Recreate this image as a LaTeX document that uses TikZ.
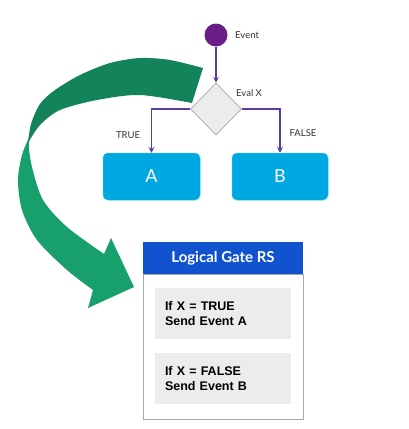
\documentclass[tikz,border=0pt]{standalone}
\usepackage{fontspec}
\setmainfont{Lato}
\newfontfamily\arialfam{Liberation Sans}
\usetikzlibrary{shapes.geometric,arrows.meta}
\definecolor{evpurple}{HTML}{6A1E87}
\definecolor{connc}{HTML}{5B3BA6}
\definecolor{boxblue}{HTML}{00A8E1}
\definecolor{hdrblue}{HTML}{1152CF}
\definecolor{gdark}{HTML}{13845A}
\definecolor{glight}{HTML}{18A06C}
\definecolor{panelc}{HTML}{ECECEC}
\definecolor{dgray}{HTML}{A8A8A8}
\definecolor{labc}{HTML}{333333}
\begin{document}
\begin{tikzpicture}[x=1pt,y=-1pt,
  conn/.style={draw=connc, line width=1.1pt, -{Stealth[length=6pt,width=6pt,inset=2.5pt]}},
  lab/.style={text=labc, font=\fontsize{9.5}{11}\selectfont, inner sep=0pt},
  eventc/.style={circle, fill=evpurple, minimum size=23pt, inner sep=0pt},
  decision/.style={diamond, draw=dgray, line width=0.7pt, fill=panelc, minimum width=51pt, minimum height=52pt, inner sep=0pt},
  outbox/.style={rounded corners=5pt, fill=boxblue, draw=boxblue!80!white, line width=0.5pt, minimum width=97pt, minimum height=47pt, inner sep=0pt, text=white, font=\fontsize{18}{20}\selectfont},
  gatehdr/.style={fill=hdrblue, minimum width=160pt, minimum height=32pt, inner sep=0pt, text=white, font=\bfseries\fontsize{15}{18}\selectfont},
  gatebody/.style={draw=dgray, line width=0.8pt, fill=white, minimum width=160pt, minimum height=145pt, inner sep=0pt},
  panelbox/.style={fill=panelc, minimum width=136pt, minimum height=51pt, text width=116pt, inner xsep=10pt, inner ysep=0pt, align=left, font=\arialfam\bfseries\fontsize{12.5}{15.5}\selectfont, text=black}
]
\useasboundingbox (0,0) rectangle (409,429);

% green curved arrow: lower (light) part
\fill[glight] plot[smooth] coordinates {(36,118) (30,135) (22,155) (18,180) (22,210) (37,240) (67,270) (93,290)}
  -- (88,308) -- (134,287) -- (111,238) -- (104,254)
  -- plot[smooth] coordinates {(104,254) (67,227) (43,200) (32,167) (29,143) (34,122)} -- cycle;
% upper (dark) part
\fill[gdark] plot[smooth] coordinates {(203,68) (170,60) (140,58) (110,63) (80,75) (55,90) (40,104) (31,124) (28,143)}
  -- plot[smooth] coordinates {(28,143) (40,125) (60,110) (97,100) (140,95) (192,103)} -- cycle;

% flow chart
\node[eventc] (ev) at (216,35) {};
\node[lab, anchor=west] (evl) at (235,35) {Event};
\node[decision] (dec) at (216,109) {};
\node[lab, anchor=west] (evx) at (236,93) {Eval X};
\node[outbox] (a) at (151.5,176.5) {A};
\node[outbox, minimum width=96pt] (b) at (280,176.5) {B};
\node[lab] (tl) at (128,135) {TRUE};
\node[lab] (fl) at (303,133) {FALSE};

\draw[conn] (ev) -- (dec);
\draw[conn] (dec.west) -| (a.north);
\draw[conn] (dec.east) -| (b.north);

% logical gate
\node[gatehdr] (gh) at (223,258) {Logical Gate RS};
\node[gatebody, anchor=north] (gb) at (gh.south) {};
\node[panelbox] (p1) at (223,313.5) {If X = TRUE\\Send Event A};
\node[panelbox] (p2) at (223,378.5) {If X = FALSE\\Send Event B};
\end{tikzpicture}
\end{document}
